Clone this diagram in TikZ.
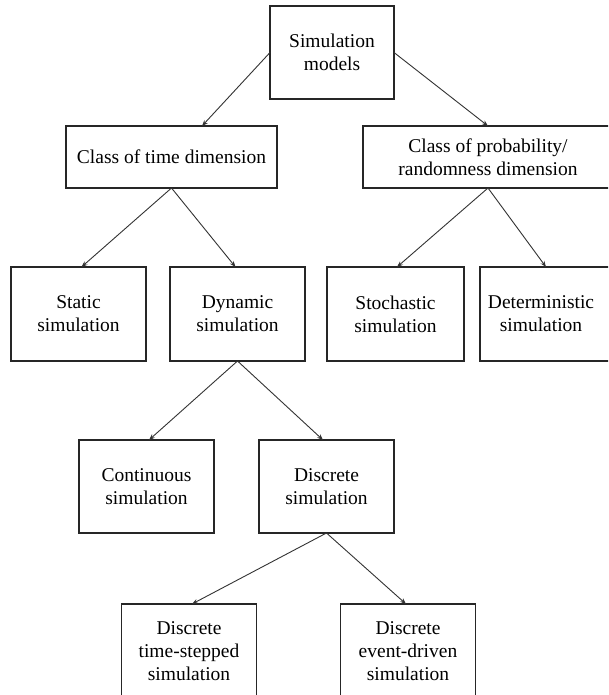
\documentclass[tikz,border=0pt]{standalone}
\usepackage{fontspec}
\setmainfont{Liberation Serif}
\usetikzlibrary{arrows.meta,calc}
\begin{document}
\begin{tikzpicture}[x=1pt,y=-1pt,
  box/.style={draw=black!85, line width=1.1pt, fill=white, align=center,
    inner sep=0pt, outer sep=0pt, font=\fontsize{19.5}{23}\selectfont,
    text=black},
  boxtext/.style={align=center, inner sep=0pt,
    font=\fontsize{19.5}{23}\selectfont, text=black},
  conn/.style={draw=black!80, line width=0.9pt,
    -{Stealth[length=6pt,width=4.5pt]}}]
  \clip (0,0) rectangle (608,695);
  \fill[white] (0,0) rectangle (608,695);

  % top level
  \node[box, minimum width=124pt, minimum height=93pt] (root) at (332,52.5) {Simulation\\models};

  % classification dimensions
  \node[box, minimum width=211pt, minimum height=62pt] (ctime) at (171.5,157) {Class of time dimension};
  \node[box, minimum width=250pt, minimum height=62pt] (cprob) at (488,157) {Class of probability/\\randomness dimension};

  % simulation kinds
  \node[box, minimum width=135pt, minimum height=94pt] (static) at (78.5,314) {Static\\simulation};
  \node[box, minimum width=135pt, minimum height=94pt] (dyn) at (237.5,314) {Dynamic\\simulation};
  \node[box, minimum width=137pt, minimum height=94pt] (stoch) at (395.5,314) {Stochastic\\simulation};
  \node[box, minimum width=135pt, minimum height=94pt] (det) at (547.5,314) {};
  \node[boxtext] (dettext) at (541,314) {Deterministic\\simulation};

  \node[box, minimum width=135pt, minimum height=93pt] (cont) at (146.5,486.5) {Continuous\\simulation};
  \node[box, minimum width=135pt, minimum height=93pt] (disc) at (326.5,486.5) {Discrete\\simulation};

  \node[box, minimum width=135pt, minimum height=94pt] (dts) at (189,651) {Discrete\\time-stepped\\simulation};
  \node[box, minimum width=135pt, minimum height=94pt] (ded) at (408,651) {Discrete\\event-driven\\simulation};

  % connectors
  \coordinate (ctimein) at ($(ctime.north)+(30.5,0)$);
  \draw[conn] (root.west) -- (ctimein);
  \draw[conn] (root.east) -- (cprob.north);

  \draw[conn] (ctime.south) -- ($(static.north)+(3,0)$);
  \draw[conn] (ctime.south) -- ($(dyn.north)+(-2,0)$);
  \draw[conn] (cprob.south) -- ($(stoch.north)+(1.5,0)$);
  \draw[conn] (cprob.south) -- ($(det.north)+(-1.5,0)$);

  \draw[conn] (dyn.south) -- ($(cont.north)+(2.5,0)$);
  \draw[conn] (dyn.south) -- ($(disc.north)+(-3.5,0)$);

  \draw[conn] (disc.south) -- ($(dts.north)+(3,0)$);
  \draw[conn] (disc.south) -- ($(ded.north)+(-2,0)$);
\end{tikzpicture}
\end{document}
